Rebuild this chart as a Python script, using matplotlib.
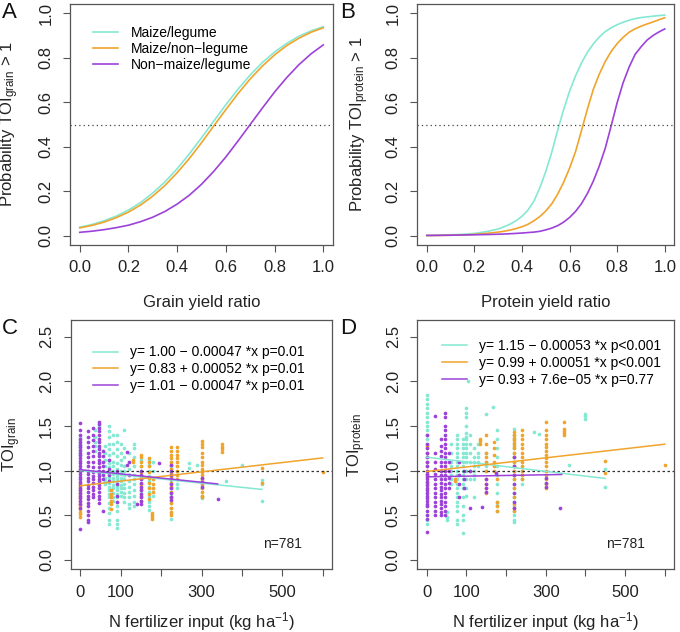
import matplotlib
matplotlib.use('Agg')
import matplotlib.pyplot as plt

plt.rcParams['font.family'] = ['Liberation Sans', 'DejaVu Sans']
plt.rcParams['mathtext.fontset'] = 'custom'
plt.rcParams['mathtext.rm'] = 'Liberation Sans'
plt.rcParams['mathtext.it'] = 'Liberation Sans:italic'

# ---------------- data ----------------
GROUPS = ['Maize/legume', 'Maize/non\u2212legume', 'Non\u2212maize/legume']
COLORS = ['#84E8D2', '#F0A42C', '#9C42DA']

A_RATIO = [0.00, 0.05, 0.10, 0.15, 0.20, 0.25, 0.30, 0.35, 0.40, 0.45, 0.50,
           0.55, 0.60, 0.65, 0.70, 0.75, 0.80, 0.85, 0.90, 0.95, 1.00]

# Panel A: probability TOI_grain > 1
A_LEG = [0.038, 0.050, 0.067, 0.088, 0.115, 0.149, 0.192, 0.242, 0.301, 0.368, 0.440,
         0.515, 0.589, 0.659, 0.723, 0.779, 0.826, 0.865, 0.897, 0.921, 0.940]
A_NONLEG = [0.035, 0.046, 0.061, 0.081, 0.106, 0.138, 0.178, 0.226, 0.283, 0.347, 0.418,
            0.493, 0.567, 0.639, 0.705, 0.763, 0.813, 0.855, 0.888, 0.915, 0.935]
A_NONMAIZE = [0.015, 0.020, 0.027, 0.036, 0.047, 0.063, 0.083, 0.109, 0.142, 0.182, 0.231,
              0.289, 0.354, 0.426, 0.500, 0.574, 0.646, 0.711, 0.769, 0.818, 0.858]

# Panel B: probability TOI_protein > 1
B_RATIO = [0.00, 0.05, 0.10, 0.15, 0.20, 0.25, 0.30, 0.325, 0.35, 0.375, 0.40, 0.425,
           0.45, 0.475, 0.50, 0.525, 0.55, 0.575, 0.60, 0.625, 0.65, 0.675, 0.70, 0.725,
           0.75, 0.775, 0.80, 0.825, 0.85, 0.875, 0.90, 0.925, 0.95, 0.975, 1.00]
B_LEG = [0.001, 0.002, 0.004, 0.006, 0.010, 0.018, 0.030, 0.040, 0.052, 0.067, 0.087,
         0.115, 0.155, 0.216, 0.289, 0.375, 0.475, 0.567, 0.650, 0.719, 0.777, 0.825,
         0.863, 0.894, 0.918, 0.935, 0.949, 0.960, 0.969, 0.976, 0.981, 0.984, 0.987,
         0.990, 0.992]
B_NONLEG = [0.0005, 0.001, 0.002, 0.003, 0.006, 0.010, 0.016, 0.020, 0.025, 0.032, 0.040,
            0.051, 0.067, 0.086, 0.111, 0.143, 0.187, 0.240, 0.304, 0.378, 0.473, 0.570,
            0.659, 0.727, 0.784, 0.829, 0.864, 0.892, 0.915, 0.930, 0.942, 0.952, 0.961,
            0.971, 0.980]
B_NONMAIZE = [0.001, 0.0015, 0.002, 0.003, 0.004, 0.005, 0.0064, 0.0075, 0.0087, 0.0102,
              0.0119, 0.014, 0.016, 0.0196, 0.026, 0.034, 0.045, 0.061, 0.082, 0.109, 0.144,
              0.190, 0.246, 0.314, 0.394, 0.495, 0.599, 0.688, 0.758, 0.815, 0.849, 0.879,
              0.900, 0.916, 0.930]

# Panel C: TOI_grain vs N fertilizer input, columns of (N input, [TOI values])
C_LEG = [
    (0, [1.38, 1.34, 1.30, 1.26, 1.22, 1.18, 0.76]),
    (35, [1.45, 1.38, 1.32, 1.28, 1.22]),
    (45, [1.50, 1.33, 1.26, 1.18, 1.10, 1.00, 0.95]),
    (60, [1.28, 1.20, 1.12, 1.05, 0.98, 0.92, 0.88, 0.85]),
    (70, [1.50, 1.44, 1.38, 1.30, 1.24, 1.18, 1.12, 1.08, 1.04, 1.00, 0.97, 0.93, 0.90, 0.86,
          0.82, 0.78, 0.74, 0.70, 0.64, 0.58, 0.52, 0.45, 0.40]),
    (80, [1.40, 1.30, 1.20, 1.10, 1.05, 1.00, 0.96, 0.92, 0.88, 0.84, 0.80, 0.75, 0.70, 0.66]),
    (90, [1.40, 1.32, 1.24, 1.16, 1.08, 1.02, 0.98, 0.94, 0.90, 0.86, 0.82, 0.78, 0.74, 0.70,
          0.65, 0.60, 0.55, 0.45, 0.40, 0.35]),
    (100, [1.30, 1.20, 1.12, 1.06, 1.00, 0.96, 0.92, 0.88, 0.84, 0.80, 0.76, 0.72]),
    (108, [1.46, 1.25, 1.15, 1.05, 1.00, 0.95, 0.90, 0.85, 0.80, 0.75, 0.70, 0.65]),
    (120, [1.20, 1.10, 1.02, 0.95, 0.88, 0.82, 0.76, 0.70, 0.62, 0.58]),
    (134, [1.30, 1.25, 1.15, 1.05, 0.95, 0.90, 0.85, 0.78, 0.72, 0.65, 0.60]),
    (150, [1.12, 1.05, 1.00, 0.95, 0.90, 0.85, 0.80, 0.75, 0.70]),
    (170, [1.12, 1.06, 1.00, 0.94, 0.88, 0.82, 0.76, 0.70, 0.65, 0.60, 0.56]),
    (180, [1.10, 1.00, 0.90, 0.80, 0.72]),
    (225, [1.10, 1.05, 1.00, 0.96, 0.93, 0.90, 0.87, 0.84, 0.80, 0.76, 0.72, 0.68, 0.64, 0.58,
           0.52, 0.46]),
    (240, [1.00, 0.95, 0.90, 0.85, 0.80]),
    (270, [1.08, 1.03]),
    (290, [1.06]),
    (300, [0.90, 0.85, 0.80, 0.72, 0.69]),
    (360, [0.88]),
    (400, [1.06]),
    (450, [0.89, 0.85, 0.66]),
]
C_NONLEG = [
    (0, [0.86, 0.82, 0.78, 0.74, 0.70, 0.66, 0.63, 0.60, 0.57, 0.54, 0.51, 0.48]),
    (75, [0.78, 0.74, 0.70, 0.66, 0.62, 0.57]),
    (130, [1.12, 1.10]),
    (150, [1.18, 1.15, 1.10, 1.05, 0.98, 0.92, 0.85, 0.78, 0.72, 0.66]),
    (170, [1.14, 1.10, 1.05, 0.98, 0.92, 0.86, 0.80, 0.74, 0.68]),
    (177, [0.52, 0.50, 0.48, 0.46]),
    (180, [0.90, 0.85, 0.80, 0.76]),
    (225, [1.26, 1.22, 1.18, 1.14, 1.10, 1.06, 1.02, 0.98, 0.94, 0.90, 0.86, 0.82, 0.76, 0.70,
           0.64, 0.58, 0.54, 0.50]),
    (240, [1.26, 1.22, 1.18, 1.14, 1.10, 1.05, 1.00, 0.95, 0.90]),
    (300, [1.33, 1.30, 1.26, 1.20, 1.15, 1.10, 1.06, 1.02, 0.98, 0.95, 0.92, 0.88, 0.84, 0.80,
           0.76, 0.72, 0.70]),
    (350, [1.30, 1.27, 1.24, 1.21]),
    (450, [1.03, 0.86]),
    (600, [0.98]),
]
C_NONMAIZE = [
    (0, [1.53, 1.45, 1.40, 1.36, 1.32, 1.29, 1.26, 1.23, 1.20, 1.17, 1.14, 1.11, 1.08, 1.05,
         1.02, 0.99, 0.96, 0.93, 0.90, 0.87, 0.84, 0.81, 0.78, 0.75, 0.72, 0.69, 0.66, 0.62,
         0.58, 0.34]),
    (20, [1.44, 1.38, 1.32, 1.26, 1.20, 1.15, 1.10, 1.05, 1.00, 0.96, 0.92, 0.88, 0.84, 0.80,
          0.76, 0.72, 0.68, 0.64, 0.60, 0.55, 0.50, 0.45, 0.42]),
    (30, [1.48, 1.40, 1.34, 1.28, 1.22, 1.16, 1.10, 1.04, 0.98, 0.94, 0.90, 0.86, 0.82, 0.78,
          0.74, 0.70]),
    (45, [1.54, 1.52, 1.48, 1.44, 1.40, 1.36, 1.32, 1.28, 1.24, 1.20, 1.16, 1.12, 1.08, 1.04,
          1.00, 0.97, 0.94, 0.91, 0.88, 0.84, 0.80, 0.76, 0.72, 0.68, 0.64]),
    (55, [1.22, 1.16, 1.10, 1.05, 1.00, 0.95, 0.90, 0.55]),
    (70, [1.12, 1.02, 0.95, 0.88]),
    (90, [1.00, 0.85, 0.72, 0.65]),
    (115, [1.21, 1.06]),
    (120, [1.10, 0.95]),
    (140, [0.62]),
    (150, [1.00, 0.95, 0.90, 0.86, 0.82, 0.78, 0.74, 0.70, 0.66, 0.62]),
    (195, [1.08]),
    (225, [1.06, 1.00, 0.95, 0.90, 0.85, 0.80, 0.75, 0.70, 0.67]),
    (300, [0.92, 0.87, 0.82]),
    (340, [0.685]),
]

# Panel D: TOI_protein vs N fertilizer input
D_LEG = [
    (0, [1.85, 1.80, 1.75, 1.70, 1.65, 1.60, 1.55, 1.50, 1.45, 1.40, 1.35, 1.30, 1.25, 1.20,
         1.15, 1.10, 1.05, 0.95, 0.85, 0.75, 0.60, 0.50, 0.45, 0.40]),
    (50, [0.53, 0.48, 0.45]),
    (60, [1.30, 1.20, 1.10, 1.05, 1.00, 0.95, 0.90, 0.85]),
    (75, [1.40, 1.35, 1.30, 1.25, 1.20, 1.15, 1.10, 1.05, 1.00, 0.95, 0.90, 0.85, 0.80, 0.75,
          0.70, 0.65, 0.60, 0.55, 0.45, 0.40]),
    (90, [1.35, 1.30, 1.25, 1.20, 1.15, 1.10, 1.05, 1.00, 0.95, 0.90, 0.85, 0.80, 0.70, 0.60,
          0.50, 0.45, 0.30]),
    (100, [1.70, 1.65, 1.60, 1.50, 1.42, 1.38, 1.35, 1.30, 1.25, 1.20, 1.15, 1.10, 1.00, 0.90,
           0.80, 0.72]),
    (103, [2.01]),
    (110, [1.40, 1.30, 1.20, 1.10, 1.00, 0.90]),
    (120, [1.25, 1.15, 1.10, 1.05, 1.00, 0.95, 0.90, 0.70]),
    (130, [1.30, 1.20, 1.15, 1.10, 1.05]),
    (150, [1.64, 1.20, 1.10, 1.05, 1.00]),
    (167, [1.71]),
    (177, [1.45, 1.35, 1.25, 1.15, 1.05, 0.95, 0.85, 0.75, 0.65, 0.61, 0.55]),
    (220, [1.47, 1.40, 1.35, 1.30, 1.25, 1.20, 1.15, 1.10, 1.05, 1.00, 0.95, 0.90, 0.85, 0.80,
           0.75, 0.70, 0.65, 0.60, 0.55, 0.50, 0.45, 0.42]),
    (240, [1.00, 0.95, 0.90, 0.85]),
    (270, [1.43]),
    (283, [1.41]),
    (300, [0.85]),
    (358, [1.06]),
    (400, [1.64, 1.61, 1.58]),
    (450, [1.02, 0.82]),
]
D_NONLEG = [
    (0, [1.28, 1.20, 1.10, 1.00, 0.95, 0.87]),
    (72, [0.91, 0.88]),
    (133, [1.36, 1.33, 1.30]),
    (150, [1.40, 1.30, 1.20, 1.15, 1.10, 1.00, 0.90, 0.85, 0.80, 0.75]),
    (170, [1.32, 1.25, 1.18, 1.10, 1.05, 1.00]),
    (178, [0.90, 0.65, 0.60, 0.55]),
    (220, [1.43, 1.40, 1.37, 1.34, 1.31, 1.28, 1.25, 1.20, 1.15, 1.10, 1.05, 1.00, 0.95, 0.90,
           0.80, 0.70, 0.62, 0.58, 0.55]),
    (240, [1.45, 1.40, 1.35, 1.30, 1.25, 1.20, 1.15, 1.10, 1.05, 1.00, 0.95, 0.90]),
    (300, [1.54, 1.45, 1.40, 1.35, 1.30, 1.26, 1.22, 1.18, 1.14, 1.10, 1.05, 1.00, 0.95, 0.90,
           0.85, 0.80]),
    (345, [1.54, 1.47, 1.44, 1.42, 1.40]),
    (450, [1.11, 0.97]),
    (600, [1.06]),
]
D_NONMAIZE = [
    (0, [1.40, 1.30, 1.25, 1.20, 1.15, 1.10, 1.05, 1.00, 0.96, 0.93, 0.90, 0.87, 0.84, 0.81,
         0.78, 0.75, 0.72, 0.69, 0.66, 0.63, 0.60, 0.55, 0.50, 0.46, 0.31]),
    (20, [1.61, 1.20, 1.10, 1.02, 0.96, 0.90, 0.85, 0.80, 0.75, 0.70, 0.65, 0.60, 0.55, 0.50]),
    (35, [1.35, 1.28, 1.22, 1.16, 1.10, 1.05, 1.00, 0.95, 0.90, 0.86, 0.82, 0.78, 0.74, 0.70,
          0.66, 0.62, 0.58, 0.54, 0.50]),
    (45, [1.65, 1.60, 1.50, 1.45, 1.40, 1.35, 1.30, 1.25, 1.20, 1.15, 1.10, 1.05, 1.00, 0.95,
          0.90, 0.85, 0.80, 0.75, 0.70, 0.65, 0.60, 0.55, 0.50]),
    (55, [1.20, 1.10, 1.00, 0.92, 0.86, 0.80]),
    (80, [1.10, 0.95, 0.85, 0.70]),
    (95, [1.00, 0.90, 0.80]),
    (110, [1.00, 0.58]),
    (140, [0.59]),
    (150, [0.90, 0.85, 0.80, 0.76]),
    (175, [0.97]),
    (220, [1.15, 1.05, 0.95, 0.85, 0.75, 0.65, 0.58]),
    (300, [0.92, 0.86, 0.82]),
    (335, [0.58]),
]

# regression fits: intercept, slope, x range end, legend label
C_FIT_INT = [1.00, 0.83, 1.01]
C_FIT_SLOPE = [-0.00047, 0.00052, -0.00047]
C_FIT_XMAX = [450, 600, 340]
C_LABELS = ['y= 1.00 \u2212 0.00047 *x p=0.01',
            'y= 0.83 + 0.00052 *x p=0.01',
            'y= 1.01 \u2212 0.00047 *x p=0.01']
D_FIT_INT = [1.15, 0.99, 0.93]
D_FIT_SLOPE = [-0.00053, 0.00051, 7.6e-05]
D_FIT_XMAX = [450, 600, 340]
D_LABELS = ['y= 1.15 \u2212 0.00053 *x p<0.001',
            'y= 0.99 + 0.00051 *x p<0.001',
            'y= 0.93 + 7.6e\u221205 *x p=0.77']

N_TICKS = [0, 100, 200, 300, 400, 500, 600]
N_TICKLABELS = ['0', '100', '', '300', '', '500', '']

# ---------------- drawing ----------------
W, H = 680, 632
fig = plt.figure(figsize=(W / 100, H / 100), dpi=100)


def add_ax(left, top, right, bottom):
    return fig.add_axes([left / W, 1 - bottom / H, (right - left) / W, (bottom - top) / H])


def style(ax):
    for sp in ax.spines.values():
        sp.set_color('#555555')
        sp.set_linewidth(0.9)
    ax.tick_params(direction='out', length=5, width=0.8, color='#555555',
                   labelsize=12, labelcolor='#222222')
    ax.tick_params(axis='x', pad=6)
    ax.tick_params(axis='y', pad=7, labelrotation=90)
    for lab in ax.get_yticklabels():
        lab.set_verticalalignment('center')


def expand(cols):
    xs, ys = [], []
    for x, yl in cols:
        xs += [x] * len(yl)
        ys += yl
    return xs, ys


def prob_panel(ax, xvals, curves, xlabel, ylabel, ylab_x, legend):
    lines = []
    for vals, c in zip(curves, COLORS):
        ln, = ax.plot(xvals, vals, color=c, lw=1.2)
        lines.append(ln)
    ax.axhline(0.5, color='#444444', lw=0.9, ls=(0, (1, 2.5)))
    ax.set_xlim(-0.04, 1.04)
    ax.set_ylim(-0.042, 1.042)
    ax.set_xticks([0, 0.2, 0.4, 0.6, 0.8, 1.0])
    ax.set_xticklabels(['0.0', '0.2', '0.4', '0.6', '0.8', '1.0'])
    ax.set_yticks([0, 0.2, 0.4, 0.6, 0.8, 1.0])
    ax.set_yticklabels(['0.0', '0.2', '0.4', '0.6', '0.8', '1.0'])
    style(ax)
    ax.set_xlabel(xlabel, fontsize=12, color='#222222')
    ax.xaxis.label.set_verticalalignment('center')
    ax.xaxis.set_label_coords(0.5, -0.24)
    ax.set_ylabel(ylabel, fontsize=12, color='#222222')
    ax.yaxis.label.set_verticalalignment('center')
    ax.yaxis.set_label_coords(ylab_x, 0.5)
    if legend:
        ax.legend(lines, GROUPS, loc='upper left', bbox_to_anchor=(0.087, 0.91),
                  frameon=False, fontsize=10, handlelength=1.8, handletextpad=0.95,
                  labelspacing=0.15, borderpad=0, borderaxespad=0)


def toi_panel(ax, groups, ints, slopes, xmaxs, labels, ylabel, ylab_x, leg_anchor):
    for cols, c in zip(groups, COLORS):
        xs, ys = expand(cols)
        ax.scatter(xs, ys, s=7, color=c, linewidths=0, zorder=2)
    ax.axhline(1.0, color='#333333', lw=0.9, ls=(0, (2, 2)), zorder=3)
    lines = []
    for a, b, xm, c in zip(ints, slopes, xmaxs, COLORS):
        ln, = ax.plot([0, xm], [a, a + b * xm], color=c, lw=1.1, zorder=4)
        lines.append(ln)
    ax.set_xlim(-24, 624)
    ax.set_ylim(-0.108, 2.69)
    ax.set_xticks(N_TICKS)
    ax.set_xticklabels(N_TICKLABELS)
    ax.set_yticks([0, 0.5, 1.0, 1.5, 2.0, 2.5])
    ax.set_yticklabels(['0.0', '0.5', '1.0', '1.5', '2.0', '2.5'])
    style(ax)
    ax.set_xlabel('N fertilizer input (kg ha$^{\u22121}$)', fontsize=12, color='#222222')
    ax.xaxis.label.set_verticalalignment('center')
    ax.xaxis.set_label_coords(0.5, -0.21)
    ax.set_ylabel(ylabel, fontsize=12, color='#222222')
    ax.yaxis.label.set_verticalalignment('center')
    ax.yaxis.set_label_coords(ylab_x, 0.5)
    ax.legend(lines, labels, loc='upper left', bbox_to_anchor=leg_anchor,
              frameon=False, fontsize=10, handlelength=1.8, handletextpad=0.9,
              labelspacing=0.2, borderpad=0, borderaxespad=0)
    ax.text(0.81, 0.1, 'n=781', transform=ax.transAxes, fontsize=10,
            ha='center', va='center', color='#222222')


axA = add_ax(70, 4, 333, 245)
prob_panel(axA, A_RATIO, [A_LEG, A_NONLEG, A_NONMAIZE], 'Grain yield ratio',
           'Probability TOI$_{\\mathrm{grain}}$ > 1', -0.228, True)
axB = add_ax(417.3, 4, 674.3, 245)
prob_panel(axB, B_RATIO, [B_LEG, B_NONLEG, B_NONMAIZE], 'Protein yield ratio',
           'Probability TOI$_{\\mathrm{protein}}$ > 1', -0.223, False)
axC = add_ax(70.7, 320, 332.3, 569.3)
toi_panel(axC, [C_LEG, C_NONLEG, C_NONMAIZE], C_FIT_INT, C_FIT_SLOPE, C_FIT_XMAX,
          C_LABELS, 'TOI$_{\\mathrm{grain}}$', -0.226, (0.085, 0.898))
axD = add_ax(417.3, 320, 674.3, 569.3)
toi_panel(axD, [D_LEG, D_NONLEG, D_NONMAIZE], D_FIT_INT, D_FIT_SLOPE, D_FIT_XMAX,
          D_LABELS, 'TOI$_{\\mathrm{protein}}$', -0.236, (0.095, 0.923))

for txt, px, py in [('A', 2, 2), ('B', 340, 2), ('C', 2, 318), ('D', 340, 318)]:
    fig.text(px / W, 1 - py / H, txt, fontsize=16, ha='left', va='top', color='#111111')

fig.savefig('out.png', dpi=100)
